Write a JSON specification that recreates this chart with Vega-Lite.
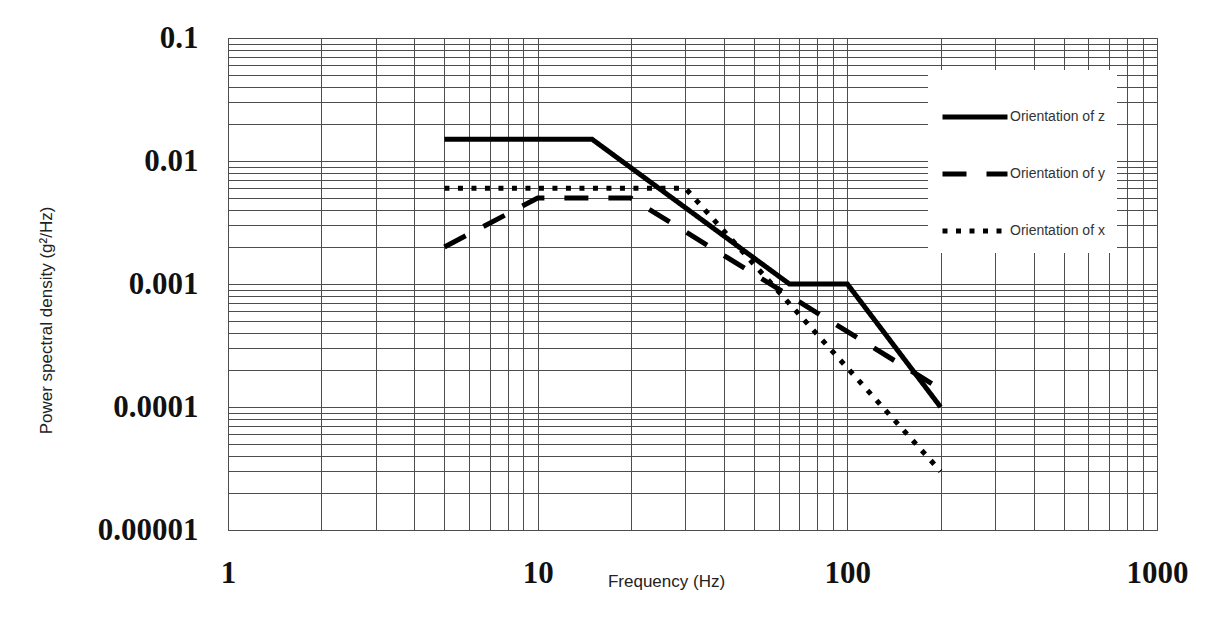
{
  "$schema": "https://vega.github.io/schema/vega-lite/v6.json",
  "width": 929,
  "height": 492,
  "autosize": "none",
  "padding": {"left": 228, "top": 38, "right": 69, "bottom": 99},
  "background": "white",
  "config": {
    "view": {"stroke": "#4d4d4d", "strokeWidth": 1},
    "axis": {
      "grid": true,
      "gridColor": "#4d4d4d",
      "gridWidth": 1,
      "gridOpacity": 1,
      "domain": false,
      "ticks": false,
      "labelFont": "Liberation Serif",
      "labelFontWeight": "bold",
      "labelFontSize": 31,
      "labelColor": "#111",
      "labelOverlap": false,
      "labelFlush": false,
      "titleFont": "Liberation Sans",
      "titleFontWeight": "normal",
      "titleFontSize": 17,
      "titleColor": "#222"
    }
  },
  "data": {
    "values": [
      {"f": 5, "p": 0.015, "s": "Orientation of z"},
      {"f": 15, "p": 0.015, "s": "Orientation of z"},
      {"f": 65, "p": 0.001, "s": "Orientation of z"},
      {"f": 100, "p": 0.001, "s": "Orientation of z"},
      {"f": 200, "p": 0.0001, "s": "Orientation of z"},
      {"f": 5, "p": 0.002, "s": "Orientation of y"},
      {"f": 10, "p": 0.005, "s": "Orientation of y"},
      {"f": 20, "p": 0.005, "s": "Orientation of y"},
      {"f": 200, "p": 0.00014, "s": "Orientation of y"},
      {"f": 5, "p": 0.006, "s": "Orientation of x"},
      {"f": 30, "p": 0.006, "s": "Orientation of x"},
      {"f": 200, "p": 0.00003, "s": "Orientation of x"}
    ]
  },
  "mark": {"type": "line", "color": "black", "strokeWidth": 5, "strokeCap": "butt", "clip": true},
  "encoding": {
    "x": {
      "field": "f",
      "type": "quantitative",
      "scale": {"type": "log", "domain": [1, 1000], "nice": false},
      "axis": {
        "values": [1,2,3,4,5,6,7,8,9,10,20,30,40,50,60,70,80,90,100,200,300,400,500,600,700,800,900,1000],
        "labelExpr": "indexof([1,10,100,1000], datum.value) >= 0 ? format(datum.value, 'd') : ''",
        "labelBaseline": "middle",
        "labelPadding": 43,
        "title": "Frequency (Hz)",
        "titleX": 438,
        "titleY": 51,
        "titleAlign": "center",
        "titleBaseline": "middle"
      }
    },
    "y": {
      "field": "p",
      "type": "quantitative",
      "scale": {"type": "log", "domain": [0.00001, 0.1], "nice": false},
      "axis": {
        "values": [0.00001,0.00002,0.00003,0.00004,0.00005,0.00006,0.00007,0.00008,0.00009,0.0001,0.0002,0.0003,0.0004,0.0005,0.0006,0.0007,0.0008,0.0009,0.001,0.002,0.003,0.004,0.005,0.006,0.007,0.008,0.009,0.01,0.02,0.03,0.04,0.05,0.06,0.07,0.08,0.09,0.1],
        "labelExpr": "indexof([0.1,0.01,0.001,0.0001,0.00001], datum.value) >= 0 ? format(datum.value, '~f') : ''",
        "labelPadding": 30,
        "title": "Power spectral density (g²/Hz)",
        "titleX": -182,
        "titleY": 282,
        "titleAngle": -90,
        "titleAlign": "center",
        "titleBaseline": "middle"
      }
    },
    "strokeDash": {
      "field": "s",
      "type": "nominal",
      "scale": {
        "domain": ["Orientation of z", "Orientation of y", "Orientation of x"],
        "range": [[1, 0], [24, 20], [5, 8.5]]
      },
      "legend": {
        "title": null,
        "orient": "none",
        "legendX": 700,
        "legendY": 32,
        "fillColor": "white",
        "strokeColor": null,
        "padding": 12,
        "rowPadding": 12,
        "symbolType": "stroke",
        "symbolSize": 4225,
        "symbolStrokeWidth": 5,
        "symbolStrokeColor": "black",
        "labelFont": "Liberation Sans",
        "labelFontSize": 14,
        "labelColor": "#333",
        "labelOffset": 0
      }
    }
  }
}
